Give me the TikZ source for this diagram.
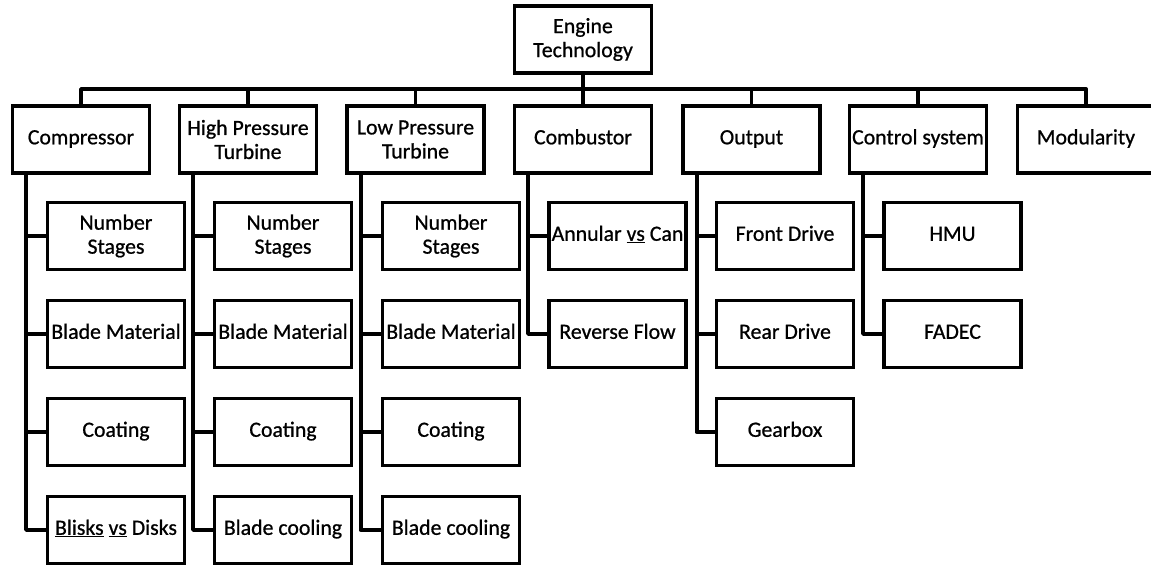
\documentclass[tikz,border=0pt]{standalone}
\usepackage{fontspec}
\setmainfont{Carlito}
\newfontfamily\boxfont{Carlito}[FakeBold=0.8]
\usetikzlibrary{calc}
\begin{document}
\begin{tikzpicture}[x=1pt,y=-1pt,
  box/.style={draw, line width=3.8pt, minimum width=137pt, minimum height=67pt,
    inner sep=0pt, align=center, font=\boxfont\fontsize{21.8}{24}\selectfont},
  link/.style={line width=3.8pt, line join=round}]
\useasboundingbox (0,0) rectangle (1151,567);
\coordinate (bus) at (0,89);
% root
\node[box] (et) at (583,39.5) {Engine\\Technology};
% level 1
\node[box] (comp) at (81,139.5) {Compressor\strut};
\node[box] (hpt) at (248,139.5) {High Pressure\\Turbine};
\node[box] (lpt) at (415.5,139.5) {Low Pressure\\Turbine};
\node[box] (comb) at (583,139.5) {Combustor\strut};
\node[box] (out) at (751.5,139.5) {Output\strut};
\node[box] (ctrl) at (918,139.5) {Control system\strut};
\node[box] (mod) at (1086,139.5) {Modularity\strut};
% compressor children
\node[box] (c1) at (116,236) {Number\\Stages};
\node[box] (c2) at (116,334) {Blade Material\strut};
\node[box] (c3) at (116,432) {Coating\strut};
\node[box] (c4) at (116,530) {\underline{Blisks} \underline{vs} Disks\strut};
% HPT children
\node[box] (h1) at (283,236) {Number\\Stages};
\node[box] (h2) at (283,334) {Blade Material\strut};
\node[box] (h3) at (283,432) {Coating\strut};
\node[box] (h4) at (283,530) {Blade cooling\strut};
% LPT children
\node[box] (l1) at (451,236) {Number\\Stages};
\node[box] (l2) at (451,334) {Blade Material\strut};
\node[box] (l3) at (451,432) {Coating\strut};
\node[box] (l4) at (451,530) {Blade cooling\strut};
% combustor children
\node[box] (b1) at (617.5,236) {Annular \underline{vs} Can\strut};
\node[box] (b2) at (617.5,334) {Reverse Flow\strut};
% output children
\node[box] (o1) at (785,236) {Front Drive\strut};
\node[box] (o2) at (785,334) {Rear Drive\strut};
\node[box] (o3) at (785,432) {Gearbox\strut};
% control children
\node[box] (k1) at (952.5,236) {HMU\strut};
\node[box] (k2) at (952.5,334) {FADEC\strut};
% bus
\draw[link] (comp.north) |- (mod.north |- bus) -- (mod.north);
\draw[link] (et.south) -- (et.south |- bus);
\foreach \n in {hpt,lpt,comb,out,ctrl} \draw[link] (\n.north) -- (\n.north |- bus);
% trunks
\foreach \p/\kids in {comp/{c1,c2,c3,c4}, hpt/{h1,h2,h3,h4}, lpt/{l1,l2,l3,l4}, comb/{b1,b2}, out/{o1,o2,o3}, ctrl/{k1,k2}}{
  \foreach \k in \kids {
    \draw[link] ($(\p.south west)+(15.5,0)$) |- (\k.west);
  }
}
\end{tikzpicture}
\end{document}
